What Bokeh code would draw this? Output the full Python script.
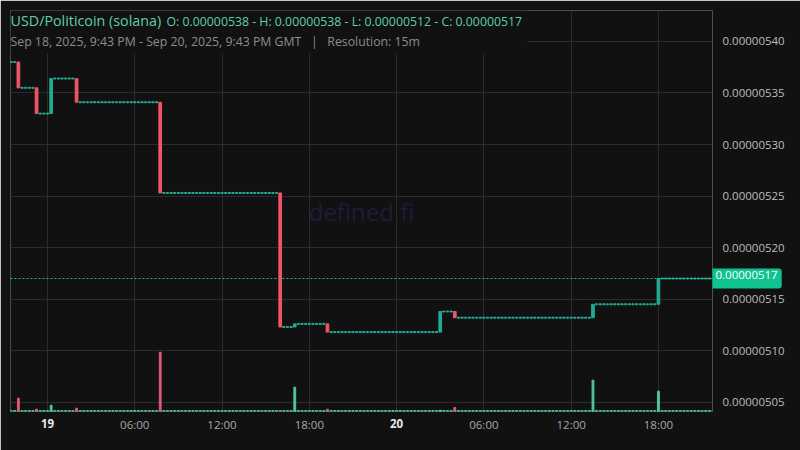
import pandas as pd
from bokeh.plotting import figure
from bokeh.models import (ColumnDataSource, Range1d, FixedTicker, LinearAxis,
                          PrintfTickFormatter, Span, Label, BoxAnnotation)
from bokeh.embed import file_html
from bokeh.resources import INLINE

# ---------------- data ----------------
first_open = 0.00000538
event_times = ["2025-09-18 22:00", "2025-09-18 23:15", "2025-09-19 00:15", "2025-09-19 02:00",
               "2025-09-19 07:45", "2025-09-19 16:00", "2025-09-19 17:00", "2025-09-19 19:15",
               "2025-09-20 03:00", "2025-09-20 04:00", "2025-09-20 13:30", "2025-09-20 18:00"]
event_close = [0.000005355, 0.000005330, 0.000005364, 0.000005341,
               0.000005253, 0.000005123, 0.000005126, 0.000005118,
               0.000005138, 0.000005132, 0.000005145, 0.000005170]
event_volume = [133, 23, 63, 33, 593, 5, 243, 23, 13, 40, 313, 203]
candle_start = "2025-09-18 21:30"
candle_end = "2025-09-20 21:45"
view_start = "2025-09-18 21:27:30"
view_end = "2025-09-20 21:43:00"
price_ticks = [0.00000505, 0.00000510, 0.00000515, 0.00000520,
               0.00000525, 0.00000530, 0.00000535, 0.00000540]
time_ticks = ["2025-09-19 00:00", "2025-09-19 06:00", "2025-09-19 12:00", "2025-09-19 18:00",
              "2025-09-20 00:00", "2025-09-20 06:00", "2025-09-20 12:00", "2025-09-20 18:00"]
time_tick_labels = ["", "06:00", "12:00", "18:00", "", "06:00", "12:00", "18:00"]
day_ticks = ["2025-09-19 00:00", "2025-09-20 00:00"]
day_labels = ["19", "20"]
last_price = 0.00000517

UP = "#22ab94"
DOWN = "#f0566a"
VUP = "#4cc9a0"
VDOWN = "#e05a75"

def ms(s):
    return pd.Timestamp(s).value // 10**6

# build 15m candles (flat candles carry the previous close)
ev = {ms(t): (c, v) for t, c, v in zip(event_times, event_close, event_volume)}
times = pd.date_range(candle_start, candle_end, freq="15min")
xs, opens, closes, vols = [], [], [], []
prev = first_open
for t in times:
    k = t.value // 10**6
    o = prev
    c, v = ev.get(k, (o, 0))
    xs.append(k); opens.append(o); closes.append(c); vols.append(v)
    prev = c

step = 15 * 60 * 1000
body = dict(x=[], top=[], bottom=[], color=[])
flat = dict(x=[], y=[])
vol = dict(x=[], top=[], color=[])
vol0 = dict(x=[])
for x, o, c, v in zip(xs, opens, closes, vols):
    if c != o:
        body["x"].append(x); body["top"].append(max(o, c)); body["bottom"].append(min(o, c))
        body["color"].append(UP if c > o else DOWN)
    else:
        flat["x"].append(x); flat["y"].append(c)
    if v > 0:
        vol["x"].append(x); vol["top"].append(v)
        vol["color"].append(VUP if c >= o else VDOWN)
    vol0["x"].append(x)

y0, y1 = 0.000005041, 0.000005430
p = figure(frame_width=702, frame_height=401, output_backend="svg", toolbar_location=None,
           x_range=Range1d(ms(view_start), ms(view_end)), y_range=Range1d(y0, y1),
           y_axis_location="right", min_border_left=10, min_border_top=10,
           min_border_right=88, min_border_bottom=39)
p.background_fill_color = "#111111"
p.border_fill_color = "#111111"
p.outline_line_color = None
p.extra_y_ranges = {"vol": Range1d(0, 4010)}

# grid
p.xgrid.ticker = FixedTicker(ticks=[ms(t) for t in time_ticks])
p.ygrid.ticker = FixedTicker(ticks=price_ticks)
p.xgrid.grid_line_color = "#2c2c2c"
p.ygrid.grid_line_color = "#2c2c2c"

# axes
xa = p.xaxis[0]
xa.ticker = FixedTicker(ticks=[ms(t) for t in time_ticks])
xa.major_label_overrides = {ms(t): l for t, l in zip(time_ticks, time_tick_labels)}
xa.axis_line_color = None
xa.major_tick_line_color = None
xa.minor_tick_line_color = None
xa.major_tick_out = 0
xa.minor_tick_out = 0
xa.major_label_standoff = 5
xa.major_label_text_color = "#a8a8a8"
xa.major_label_text_font = "Open Sans"
xa.major_label_text_font_size = "11.5px"

day_axis = LinearAxis(ticker=FixedTicker(ticks=[ms(t) for t in day_ticks]),
                      major_label_overrides={ms(t): l for t, l in zip(day_ticks, day_labels)},
                      axis_line_color=None, major_tick_line_color=None,
                      minor_tick_line_color=None, major_tick_out=0, minor_tick_out=0,
                      major_label_standoff=-16, major_label_text_color="#e8e8e8",
                      major_label_text_font="Open Sans", major_label_text_font_style="bold",
                      major_label_text_font_size="11.5px")
p.add_layout(day_axis, "below")

ya = p.yaxis[0]
ya.ticker = FixedTicker(ticks=price_ticks)
ya.formatter = PrintfTickFormatter(format="%.8f")
ya.axis_line_color = "#505050"
ya.major_tick_line_color = None
ya.minor_tick_line_color = None
ya.major_tick_out = 0
ya.minor_tick_out = 0
ya.major_label_standoff = 10
ya.major_label_text_color = "#bcbcbc"
ya.major_label_text_font = "Open Sans"
ya.major_label_text_font_size = "11.5px"

# watermark
p.add_layout(Label(x=(ms(view_start) + ms(view_end)) / 2, y=(y0 + y1) / 2, text="defined.fi",
                   text_align="center", text_baseline="middle", text_color="#1f1c3c",
                   text_font="Open Sans", text_font_size="24px", level="underlay"))

# volume
p.rect(x="x", y=0, width=step * 0.55, height=2, height_units="screen",
       source=ColumnDataSource(vol0), color=VUP, y_range_name="vol")
p.vbar(x="x", top="top", bottom=0, width=step * 0.5, color="color",
       source=ColumnDataSource(vol), y_range_name="vol")

# candles
p.rect(x="x", y="y", width=step * 0.62, height=1, height_units="screen",
       source=ColumnDataSource(flat), color=UP)
p.vbar(x="x", top="top", bottom="bottom", width=step * 0.74, color="color",
       source=ColumnDataSource(body))

# last price line
p.add_layout(Span(location=last_price, dimension="width", line_color="#19c79e",
                  line_dash="2 2", line_width=1))

# header mask + text
px_per_price = 401 / (y1 - y0)
px_per_ms = 702 / (ms(view_end) - ms(view_start))
def tx(px):
    return ms(view_start) + (px - 10) / px_per_ms
def py(py_):
    return y1 - (py_ - 10) / px_per_price

NB = "\u00a0"
p.add_layout(BoxAnnotation(right=tx(527), bottom=py(53), fill_color="#111111", fill_alpha=1,
                           line_color=None, level="underlay"))
p.add_layout(Label(x=tx(10), y=py(20), text="USD/Politicoin (solana)", text_baseline="middle",
                   text_color="#5fcfaa", text_font="Open Sans", text_font_size="14.3px"))
p.add_layout(Label(x=tx(166), y=py(20.5),
                   text="O: 0.00000538 - H: 0.00000538 - L: 0.00000512 - C: 0.00000517",
                   text_baseline="middle", text_color="#5fcfaa", text_font="Open Sans",
                   text_font_size="12.3px"))
p.add_layout(Label(x=tx(10), y=py(41),
                   text="Sep 18, 2025, 9:43 PM - Sep 20, 2025, 9:43 PM GMT" + NB * 3 + "|" + NB * 3 + "Resolution: 15m",
                   text_baseline="middle", text_color="#8e8e8e", text_font="Open Sans",
                   text_font_size="12.3px"))

# last price tag (in a side panel so it is not clipped to the frame)
tag = Label(x=tx(712), y=last_price, text="0.00000517", text_baseline="middle",
            text_color="#ffffff", text_font="Open Sans", text_font_size="11.5px",
            background_fill_color="#0fc28f", padding=2)
try:
    tag.padding = (3, 4, 2, 10)
except Exception:
    tag.padding = 3
try:
    tag.border_radius = (0, 3, 3, 0)
except Exception:
    pass
p.add_layout(tag, "below")

open("out.html", "w").write(file_html(p, INLINE))
